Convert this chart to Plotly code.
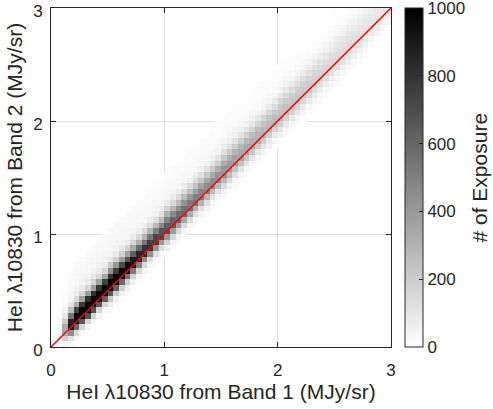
import plotly.graph_objects as go

# ---- data ----
bin_width = 0.05
n_bins = 60
bin_centers = [round(0.025 + bin_width * i, 3) for i in range(n_bins)]

# count in the diagonal cell of each x column (Band 1 bin)
diag_peak = [0, 30, 350, 900, 1200, 1300, 1350, 1350, 1300, 1250,
             1200, 1130, 1060, 1000, 940, 880, 830, 790, 750, 710,
             670, 640, 610, 580, 550, 525, 500, 480, 460, 440,
             420, 400, 380, 362, 345, 330, 315, 300, 287, 275,
             262, 250, 238, 226, 215, 204, 193, 182, 172, 162,
             152, 143, 135, 127, 119, 111, 104, 97, 90, 84]

# relative cross-band profiles (cells below / above the diagonal cell), per 0.5-wide x segment
profile_below = [
    [0.50, 0.12, 0.03],
    [0.55, 0.18, 0.05, 0.015],
    [0.60, 0.25, 0.08, 0.03],
    [0.65, 0.32, 0.12, 0.04],
    [0.70, 0.38, 0.16, 0.06, 0.02],
    [0.75, 0.45, 0.20, 0.08, 0.03],
]
profile_above = [
    [0.95, 0.60, 0.28, 0.12, 0.06, 0.04, 0.03, 0.025, 0.02, 0.015],
    [0.95, 0.66, 0.36, 0.17, 0.08, 0.045, 0.035, 0.03, 0.025, 0.02],
    [0.95, 0.72, 0.45, 0.24, 0.12, 0.06, 0.045, 0.035, 0.03, 0.025],
    [0.95, 0.78, 0.52, 0.30, 0.16, 0.09, 0.055, 0.045, 0.035, 0.03],
    [0.95, 0.80, 0.58, 0.36, 0.20, 0.12, 0.07, 0.05, 0.04, 0.03],
    [0.95, 0.83, 0.63, 0.42, 0.26, 0.15, 0.09, 0.06, 0.045, 0.035],
]

line_x = [0, 3]
line_y = [0, 3]
cbar_ticks = [0, 200, 400, 600, 800, 1000]
axis_ticks = [0, 1, 2, 3]

# ---- build histogram matrix z[y][x] ----
z = [[None] * n_bins for _ in range(n_bins)]
for i in range(n_bins):
    seg = min(i // 10, 5)
    p = diag_peak[i]
    if p <= 0:
        continue
    z[i][i] = p
    for k, r in enumerate(profile_below[seg], start=1):
        j = i - k
        if j >= 0 and p * r >= 4:
            z[j][i] = round(p * r)
    for k, r in enumerate(profile_above[seg], start=1):
        j = i + k
        if j < n_bins and p * r >= 4:
            z[j][i] = round(p * r)

font_col = "#262626"
fnt = "Liberation Sans, Arial, sans-serif"
tick_size = 17
title_size = 21

fig = go.Figure()
fig.add_trace(go.Heatmap(
    x=bin_centers, y=bin_centers, z=z,
    zmin=0, zmax=1000,
    colorscale=[[0, "white"], [1, "black"]],
    hoverongaps=False,
    colorbar=dict(
        x=1.041, xanchor="left", xpad=0, ypad=0,
        y=0.5, yanchor="middle", len=1, lenmode="fraction",
        thickness=18, thicknessmode="pixels",
        outlinewidth=1, outlinecolor=font_col,
        tickvals=cbar_ticks, ticks="inside", ticklen=4, tickcolor=font_col,
        ticklabeloverflow="allow",
        tickfont=dict(size=tick_size, color=font_col, family=fnt),
    ),
))
fig.add_trace(go.Scatter(x=line_x, y=line_y, mode="lines",
                         line=dict(color="red", width=1.5), showlegend=False))

axis_common = dict(
    range=[0, 3], tickvals=axis_ticks, showgrid=True, gridcolor="#dfdfdf", gridwidth=1,
    zeroline=False, showline=True, linecolor=font_col, linewidth=1, mirror="ticks",
    ticks="inside", ticklen=5, tickcolor=font_col, ticklabeloverflow="allow",
    automargin=False,
    tickfont=dict(size=tick_size, color=font_col, family=fnt),
)
fig.update_layout(
    width=493, height=409,
    margin=dict(l=51, r=102, t=8, b=62, autoexpand=False),
    paper_bgcolor="white", plot_bgcolor="white",
    font=dict(family=fnt, color=font_col),
    xaxis=dict(**axis_common, ticklabelstandoff=8,
               title=dict(text="HeI λ10830 from Band 1 (MJy/sr)", standoff=0,
                          font=dict(size=title_size, color=font_col, family=fnt))),
    yaxis=dict(**axis_common, ticklabelshift=3, ticklabelstandoff=4,
               title=dict(text="HeI λ10830 from Band 2 (MJy/sr)", standoff=4,
                          font=dict(size=title_size, color=font_col, family=fnt))),
    showlegend=False,
    annotations=[dict(text="# of Exposure", xref="paper", yref="paper",
                      x=(479 - 51) / 340, y=0.5, xanchor="center", yanchor="middle",
                      textangle=-90, showarrow=False,
                      font=dict(size=title_size, color=font_col, family=fnt))],
)
fig.write_html("out.html")
